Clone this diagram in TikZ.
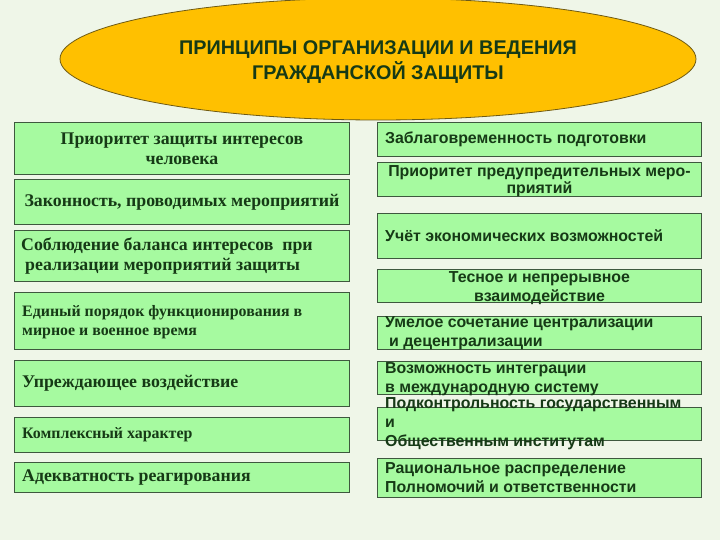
\documentclass[tikz,border=0pt]{standalone}
\usepackage{fontspec}
\setmainfont{Liberation Serif}
\newfontfamily\sansfont{Liberation Sans}
\usepackage{tikz}
\usetikzlibrary{positioning}
\usetikzlibrary{shapes.geometric}

\definecolor{bgpaper}{RGB}{239,246,232}
\definecolor{cellfill}{RGB}{166,250,160}
\definecolor{cellline}{RGB}{62,88,62}
\definecolor{textgreen}{RGB}{22,58,22}
\definecolor{ovalfill}{RGB}{255,192,0}
\definecolor{ovalline}{RGB}{110,90,20}

\tikzset{
	cell/.style={draw=cellline, fill=cellfill, line width=0.9pt, inner sep=0pt, anchor=north west},
	leftcell/.style={cell, minimum width=335pt},
	rightcell/.style={cell, minimum width=324pt},
	serifword/.style={text=textgreen, inner sep=0pt, font=\bfseries\fontsize{17.8}{20}\selectfont},
	smallserif/.style={serifword, font=\bfseries\fontsize{15.9}{19}\selectfont},
	sansword/.style={text=textgreen, inner sep=0pt, font=\sansfont\bfseries\fontsize{15.9}{19}\selectfont},
}

\begin{document}
\begin{tikzpicture}[x=1pt, y=-1pt]
	
	% ------------------------------------------------
	% Page and background
	\useasboundingbox (0,0) rectangle (720,540);
	\fill[bgpaper] (0,0) rectangle (720,540);
	
	% ------------------------------------------------
	% Title oval
	\node[ellipse, draw=ovalline, fill=ovalfill, line width=0.8pt,
		minimum width=636pt, minimum height=122pt, inner sep=0pt] (Title) at (378,59) {};
	\node[text=textgreen, align=center, inner sep=0pt,
		font=\sansfont\bfseries\fontsize{19.8}{25}\selectfont] (TitleTxt) at ([yshift=-3pt]Title.center)
		{ПРИНЦИПЫ ОРГАНИЗАЦИИ И ВЕДЕНИЯ\\ГРАЖДАНСКОЙ ЗАЩИТЫ};
	
	% ------------------------------------------------
	% Relevant coordinates
	\coordinate (LeftTop) at (14,122);
	\coordinate (RightTop) at (377,122);
	
	% ----------------
	% Left column
	\node[leftcell, minimum height=52pt] (Human) at (LeftTop) {};
	\path (LeftTop) +(0,57) coordinate (LegalTop);
	\node[leftcell, minimum height=45pt] (Legal) at (LegalTop) {};
	\path (LegalTop) +(0,51) coordinate (BalanceTop);
	\node[leftcell, minimum height=51pt] (Balance) at (BalanceTop) {};
	\path (BalanceTop) +(0,62) coordinate (OrderTop);
	\node[leftcell, minimum height=57pt] (Order) at (OrderTop) {};
	\path (OrderTop) +(0,68) coordinate (AheadTop);
	\node[leftcell, minimum height=46pt] (Ahead) at (AheadTop) {};
	\path (AheadTop) +(0,57) coordinate (ComplexTop);
	\node[leftcell, minimum height=35pt] (Complex) at (ComplexTop) {};
	\path (ComplexTop) +(0,45) coordinate (AdequateTop);
	\node[leftcell, minimum height=30pt] (Adequate) at (AdequateTop) {};
	
	\node[serifword, align=center] (HumanTxt) at (Human.center) {Приоритет защиты интересов\\человека};
	\node[serifword] (LegalTxt) at (Legal.center) {Законность, проводимых мероприятий};
	\node[serifword, align=left, anchor=west] (BalanceTxt) at ([xshift=7pt]Balance.west)
		{Соблюдение баланса интересов \ при\\\hspace*{4pt}реализации мероприятий защиты};
	\node[smallserif, align=left, anchor=west] (OrderTxt) at ([xshift=8pt, yshift=-1pt]Order.west)
		{Единый порядок функционирования в\\мирное и военное время};
	\node[serifword, anchor=west] (AheadTxt) at ([xshift=8pt]Ahead.west) {Упреждающее воздействие};
	\node[smallserif, anchor=west] (ComplexTxt) at ([xshift=8pt]Complex.west) {Комплексный характер};
	\node[serifword, anchor=west] (AdequateTxt) at ([xshift=8pt]Adequate.west) {Адекватность реагирования};
	
	% ----------------
	% Right column
	\node[rightcell, minimum height=34pt] (Advance) at (RightTop) {};
	\path (RightTop) +(0,40) coordinate (PreventTop);
	\node[rightcell, minimum height=34pt] (Prevent) at (PreventTop) {};
	\path (PreventTop) +(0,51) coordinate (EconomyTop);
	\node[rightcell, minimum height=45pt] (Economy) at (EconomyTop) {};
	\path (EconomyTop) +(0,56) coordinate (InteractTop);
	\node[rightcell, minimum height=33pt] (Interact) at (InteractTop) {};
	\path (InteractTop) +(0,47) coordinate (CentralTop);
	\node[rightcell, minimum height=33pt] (Central) at (CentralTop) {};
	\path (CentralTop) +(0,45) coordinate (GlobalTop);
	\node[rightcell, minimum height=33pt] (Global) at (GlobalTop) {};
	\path (GlobalTop) +(0,46) coordinate (ControlTop);
	\node[rightcell, minimum height=33pt] (Control) at (ControlTop) {};
	\path (ControlTop) +(0,51) coordinate (DutyTop);
	\node[rightcell, minimum height=39pt] (Duty) at (DutyTop) {};
	
	\node[sansword, anchor=west] (AdvanceTxt) at ([xshift=8pt]Advance.west) {Заблаговременность подготовки};
	\node[sansword, align=center, font=\sansfont\bfseries\fontsize{15.9}{17}\selectfont] (PreventTxt) at ([yshift=-2pt]Prevent.center)
		{Приоритет предупредительных меро-\\приятий};
	\node[sansword, anchor=west] (EconomyTxt) at ([xshift=8pt]Economy.west) {Учёт экономических возможностей};
	\node[sansword, align=center] (InteractTxt) at ([yshift=-2pt]Interact.center)
		{Тесное и непрерывное\\взаимодействие};
	\node[sansword, align=left, anchor=west] (CentralTxt) at ([xshift=8pt]Central.west)
		{Умелое сочетание централизации\\\hspace*{4pt}и децентрализации};
	\node[sansword, align=left, anchor=west] (GlobalTxt) at ([xshift=8pt, yshift=-1pt]Global.west)
		{Возможность интеграции\\в международную систему};
	\node[sansword, align=left, anchor=west] (ControlTxt) at ([xshift=8pt]Control.west)
		{Подконтрольность государственным\\и\\Общественным институтам};
	\node[sansword, align=left, anchor=west] (DutyTxt) at ([xshift=8pt]Duty.west)
		{Рациональное распределение\\Полномочий и ответственности};
	
\end{tikzpicture}
\end{document}
